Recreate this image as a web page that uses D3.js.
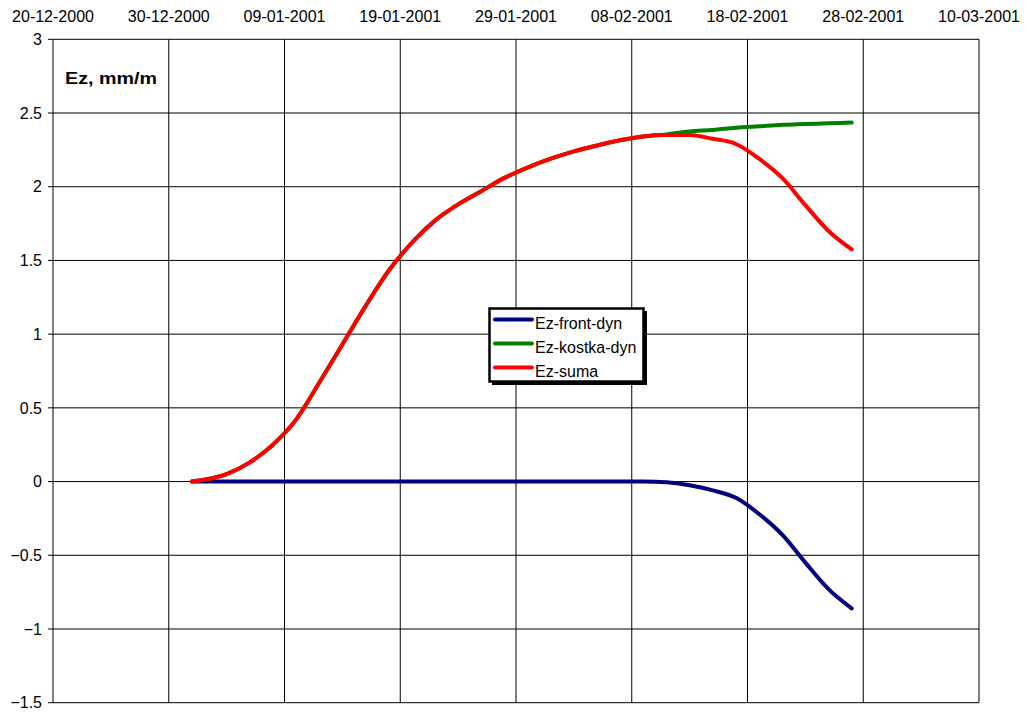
<!DOCTYPE html>
<html>
<head>
<meta charset="utf-8">
<script src="https://cdn.jsdelivr.net/npm/d3@7"></script>
<style>
  html, body { margin: 0; padding: 0; background: #fff; }
  svg { display: block; }
  text { font-family: "Liberation Sans", Arial, sans-serif; fill: #000; }
</style>
</head>
<body>
<svg id="chart" width="1036" height="713"></svg>
<script>
// ---- data ----
const dates = ["2001-01-01","2001-01-04","2001-01-06","2001-01-08","2001-01-10","2001-01-12",
  "2001-01-14","2001-01-16","2001-01-18","2001-01-20","2001-01-22","2001-01-24","2001-01-26",
  "2001-01-28","2001-01-30","2001-02-01","2001-02-03","2001-02-05","2001-02-07","2001-02-09",
  "2001-02-11","2001-02-13","2001-02-15","2001-02-17","2001-02-19","2001-02-21","2001-02-23",
  "2001-02-25","2001-02-27"];
const ezFrontDyn = [0,0,0,0,0,0,0,0,0,0,0,0,0,0,0,0,0,0,0,0,
  -0.005,-0.025,-0.06,-0.11,-0.22,-0.36,-0.55,-0.73,-0.86];
const ezKostkaDyn = [0,0.05,0.13,0.25,0.42,0.67,0.93,1.19,1.43,1.62,1.77,1.88,1.97,2.06,2.13,2.19,2.24,2.28,2.315,2.34,
  2.355,2.375,2.385,2.40,2.41,2.42,2.425,2.43,2.435];
const ezSuma = [0,0.05,0.13,0.25,0.42,0.67,0.93,1.19,1.43,1.62,1.77,1.88,1.97,2.06,2.13,2.19,2.24,2.28,2.315,2.34,
  2.35,2.35,2.325,2.29,2.19,2.06,1.875,1.70,1.575];
const seriesNames = ["Ez-front-dyn","Ez-kostka-dyn","Ez-suma"];
const seriesColors = ["#000080","#008000","#ff0000"];
const xTickLabels = ["2000-12-20","2000-12-30","2001-01-09","2001-01-19","2001-01-29",
  "2001-02-08","2001-02-18","2001-02-28","2001-03-10"];
const yTicks = [-1.5,-1,-0.5,0,0.5,1,1.5,2,2.5,3];
const yTitle = "Ez, mm/m";

// ---- layout ----
const svg = d3.select("#chart");
const L = 53, R = 979, T = 39.3, B = 702.7;
const parse = d3.utcParse("%Y-%m-%d");
const fmt = d3.utcFormat("%d-%m-%Y");
const xDates = xTickLabels.map(parse);
const x = d3.scaleUtc().domain([xDates[0], xDates[xDates.length-1]]).range([L, R]);
const y = d3.scaleLinear().domain([-1.5, 3]).range([B, T]);

// gridlines
const grid = svg.append("g").attr("stroke", "#000").attr("stroke-width", 1);
yTicks.forEach(v => {
  grid.append("line").attr("x1", L - 5).attr("x2", R).attr("y1", y(v)).attr("y2", y(v));
});
xDates.forEach(d => {
  grid.append("line").attr("x1", x(d)).attr("x2", x(d)).attr("y1", T).attr("y2", B);
});

// y tick labels
svg.append("g").selectAll("text").data(yTicks).join("text")
  .attr("x", 42).attr("y", d => y(d)).attr("dy", "0.36em")
  .attr("text-anchor", "end").attr("font-size", 16)
  .text(d => d3.format("")(d));

// top x labels
svg.append("g").selectAll("text").data(xDates).join("text")
  .attr("x", d => x(d)).attr("y", 21.5)
  .attr("text-anchor", "middle").attr("font-size", 16)
  .text(d => fmt(d));

// title in plot
svg.append("text").attr("x", 65).attr("y", 83.5)
  .attr("font-size", 17).attr("font-weight", "bold")
  .attr("textLength", 92).attr("lengthAdjust", "spacingAndGlyphs")
  .text(yTitle);

// lines
const pts = dates.map(parse);
const allSeries = [ezFrontDyn, ezKostkaDyn, ezSuma];
const line = d3.line().x((d, i) => x(pts[i])).y(d => y(d)).curve(d3.curveMonotoneX);
allSeries.forEach((s, k) => {
  svg.append("path").datum(s).attr("d", line)
    .attr("fill", "none").attr("stroke", seriesColors[k])
    .attr("stroke-width", 4).attr("stroke-linejoin", "round").attr("stroke-linecap", "round");
});

// legend
const lg = svg.append("g");
lg.append("rect").attr("x", 492).attr("y", 311).attr("width", 155).attr("height", 74).attr("fill", "#000");
lg.append("rect").attr("x", 489.5).attr("y", 308.5).attr("width", 154).attr("height", 73)
  .attr("fill", "#fff").attr("stroke", "#000").attr("stroke-width", 2.5);
const lgY = [319.5, 343.5, 367.5];
seriesNames.forEach((n, k) => {
  lg.append("line").attr("x1", 495).attr("x2", 532).attr("y1", lgY[k]).attr("y2", lgY[k])
    .attr("stroke", seriesColors[k]).attr("stroke-width", 4).attr("stroke-linecap", "round");
  lg.append("text").attr("x", 535).attr("y", lgY[k] + 9).attr("font-size", 16).text(n);
});
</script>
</body>
</html>
